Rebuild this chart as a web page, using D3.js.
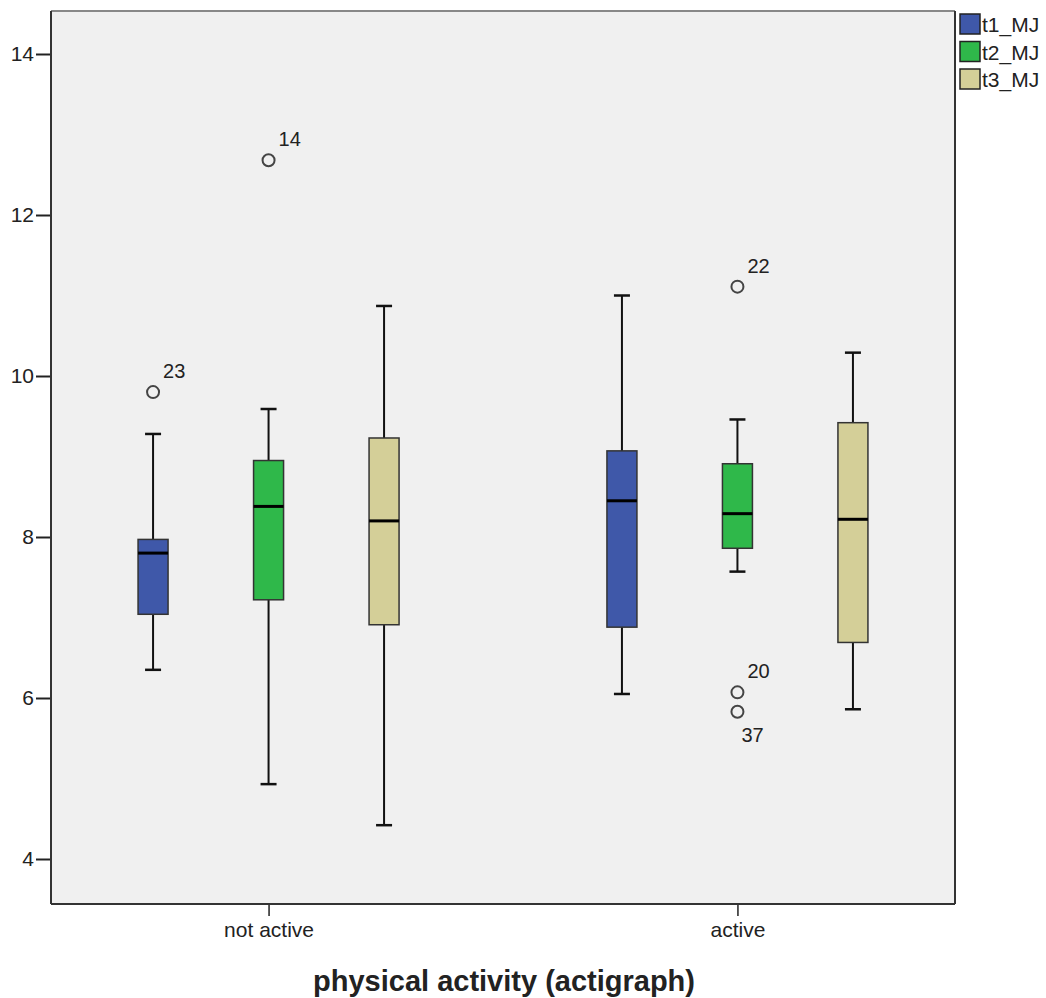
<!DOCTYPE html>
<html>
<head>
<meta charset="utf-8">
<script src="https://cdn.jsdelivr.net/npm/d3@7"></script>
<style>
  body { margin: 0; background: #fff; }
  svg { display: block; font-family: 'Liberation Sans', Arial, sans-serif; }
</style>
</head>
<body>
<div id="chart"></div>
<script>
//
// SPSS style clustered boxplot
//
const groups = ['not active', 'active']
const series = ['t1_MJ', 't2_MJ', 't3_MJ']
const colours = ['#3f58a9', '#2fb84a', '#d4cf98']
const yTicks = [4, 6, 8, 10, 12, 14]

// five number summaries per group, in series order: [low whisker, Q1, median, Q3, high whisker]
const notActiveStats = [
  [6.35, 7.04, 7.80, 7.97, 9.28],
  [4.93, 7.22, 8.38, 8.95, 9.59],
  [4.42, 6.91, 8.20, 9.23, 10.87]
]
const activeStats = [
  [6.05, 6.88, 8.45, 9.07, 11.0],
  [7.57, 7.86, 8.29, 8.91, 9.46],
  [5.86, 6.69, 8.22, 9.42, 10.29]
]
// outliers: group, series, value, case label
const outliers = [
  { group: 'not active', series: 't1_MJ', value: 9.80, label: '23' },
  { group: 'not active', series: 't2_MJ', value: 12.68, label: '14' },
  { group: 'active', series: 't2_MJ', value: 11.11, label: '22' },
  { group: 'active', series: 't2_MJ', value: 6.07, label: '20' },
  { group: 'active', series: 't2_MJ', value: 5.83, label: '37', below: true }
]

const width = 1046
const height = 998
const plot = { left: 51, top: 11, right: 955, bottom: 904 }
const font = 'Liberation Sans, Arial, sans-serif'

const svg = d3.select('#chart').append('svg')
  .attr('width', width)
  .attr('height', height)

const x = d3.scalePoint().domain(groups).range([plot.left, plot.right]).padding(0.464)
const xInner = d3.scalePoint().domain(series).range([-115.5, 115.5])
const y = d3.scaleLinear().domain([4, 14]).range([859, 54])

// plot background
svg.append('rect')
  .attr('x', plot.left).attr('y', plot.top)
  .attr('width', plot.right - plot.left).attr('height', plot.bottom - plot.top)
  .attr('fill', '#f0f0f0')

// y axis
const yAxis = svg.append('g')
  .attr('transform', 'translate(' + plot.left + ',0)')
  .call(d3.axisLeft(y).tickValues(yTicks).tickSize(15).tickPadding(2).tickFormat(d3.format('d')))
yAxis.select('.domain').remove()
yAxis.selectAll('line').attr('stroke', '#222').attr('stroke-width', 2)
yAxis.selectAll('text').attr('font-size', 21).attr('fill', '#222').attr('font-family', font)

// x axis
const xAxis = svg.append('g')
  .attr('transform', 'translate(0,' + plot.bottom + ')')
  .call(d3.axisBottom(x).tickSize(12).tickPadding(6))
xAxis.select('.domain').remove()
xAxis.selectAll('line').attr('stroke', '#222').attr('stroke-width', 1.5)
xAxis.selectAll('text').attr('font-size', 21).attr('fill', '#222').attr('font-family', font)

// frame
svg.append('line').attr('x1', plot.left).attr('x2', plot.right).attr('y1', plot.top).attr('y2', plot.top)
  .attr('stroke', '#888').attr('stroke-width', 2)
svg.append('line').attr('x1', plot.right).attr('x2', plot.right).attr('y1', plot.top).attr('y2', plot.bottom)
  .attr('stroke', '#333').attr('stroke-width', 2)
svg.append('line').attr('x1', plot.left).attr('x2', plot.left).attr('y1', plot.top).attr('y2', plot.bottom)
  .attr('stroke', '#333').attr('stroke-width', 2)
svg.append('line').attr('x1', plot.left).attr('x2', plot.right).attr('y1', plot.bottom).attr('y2', plot.bottom)
  .attr('stroke', '#333').attr('stroke-width', 2)

// boxes
const boxes = []
groups.forEach(function (g, gi) {
  const stats = gi === 0 ? notActiveStats : activeStats
  stats.forEach(function (s, si) {
    boxes.push({ group: g, series: series[si], colour: colours[si], s: s })
  })
})

const boxWidth = 30
const capWidth = 16
const boxG = svg.selectAll('g.box').data(boxes).enter().append('g')
  .attr('class', 'box')
  .attr('transform', d => 'translate(' + (x(d.group) + xInner(d.series)) + ',0)')

boxG.append('line')
  .attr('x1', 0).attr('x2', 0)
  .attr('y1', d => y(d.s[0])).attr('y2', d => y(d.s[4]))
  .attr('stroke', '#111').attr('stroke-width', 2)
boxG.selectAll('line.cap').data(d => [d.s[0], d.s[4]]).enter().append('line')
  .attr('class', 'cap')
  .attr('x1', -capWidth / 2).attr('x2', capWidth / 2)
  .attr('y1', v => y(v)).attr('y2', v => y(v))
  .attr('stroke', '#111').attr('stroke-width', 2.5)
boxG.append('rect')
  .attr('x', -boxWidth / 2).attr('width', boxWidth)
  .attr('y', d => y(d.s[3])).attr('height', d => y(d.s[1]) - y(d.s[3]))
  .attr('fill', d => d.colour)
  .attr('stroke', '#333').attr('stroke-width', 1.5)
boxG.append('line')
  .attr('x1', -boxWidth / 2).attr('x2', boxWidth / 2)
  .attr('y1', d => y(d.s[2])).attr('y2', d => y(d.s[2]))
  .attr('stroke', '#000').attr('stroke-width', 3)

// outliers
const outG = svg.selectAll('g.outlier').data(outliers).enter().append('g')
  .attr('class', 'outlier')
  .attr('transform', d => 'translate(' + (x(d.group) + xInner(d.series)) + ',' + y(d.value) + ')')
outG.append('circle')
  .attr('r', 6)
  .attr('fill', 'none')
  .attr('stroke', '#444').attr('stroke-width', 2)
outG.append('text')
  .attr('x', d => d.below ? 4 : 10)
  .attr('y', d => d.below ? 30 : -14)
  .attr('font-size', 20).attr('fill', '#222')
  .text(d => d.label)

// axis title
svg.append('text')
  .attr('x', 504).attr('y', 991)
  .attr('text-anchor', 'middle')
  .attr('font-size', 29).attr('font-weight', 'bold').attr('fill', '#222')
  .attr('font-family', font)
  .text('physical activity (actigraph)')

// legend
const legend = svg.selectAll('g.legend').data(series).enter().append('g')
  .attr('class', 'legend')
  .attr('transform', (d, i) => 'translate(960,' + (14 + i * 27.5) + ')')
legend.append('rect')
  .attr('width', 20).attr('height', 20)
  .attr('fill', (d, i) => colours[i])
  .attr('stroke', '#222').attr('stroke-width', 1.5)
legend.append('text')
  .attr('x', 22).attr('y', 18)
  .attr('font-size', 21).attr('fill', '#222')
  .text(d => d)
</script>
</body>
</html>
